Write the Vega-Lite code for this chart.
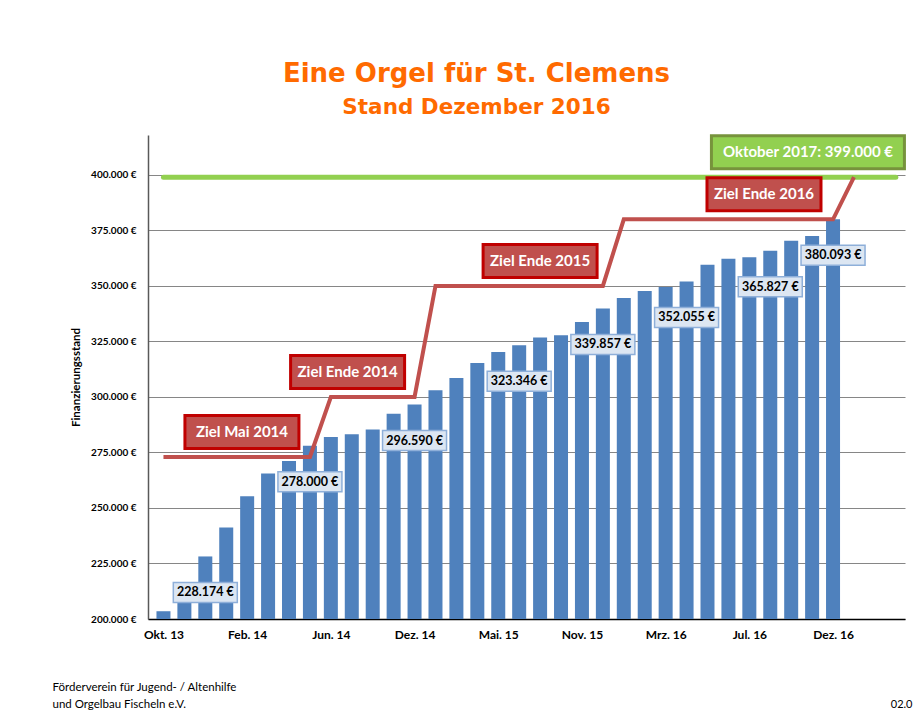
{
  "$schema": "https://vega.github.io/schema/vega-lite/v6.json",
  "width": 757,
  "height": 484,
  "autosize": {"type": "none"},
  "padding": {"left": 148, "top": 135, "right": 18, "bottom": 91},
  "background": "white",
  "config": {"view": {"stroke": null}, "font": "Lato"},
  "title": {
    "text": "Eine Orgel für St. Clemens",
    "subtitle": "Stand Dezember 2016",
    "font": "DejaVu Sans",
    "fontSize": 26,
    "fontWeight": "bold",
    "color": "#FF6A00",
    "subtitleFont": "DejaVu Sans",
    "subtitleFontSize": 21.5,
    "subtitleFontWeight": "bold",
    "subtitleColor": "#FF6A00",
    "subtitlePadding": 10,
    "offset": 11,
    "anchor": "middle",
    "dx": -50
  },
  "datasets": {
    "stand": [
      {"n": 0, "betrag": 203500},
      {"n": 1, "betrag": 215000},
      {"n": 2, "betrag": 228174, "label": "228.174 €"},
      {"n": 3, "betrag": 241200},
      {"n": 4, "betrag": 255300},
      {"n": 5, "betrag": 265500},
      {"n": 6, "betrag": 271200},
      {"n": 7, "betrag": 278000, "label": "278.000 €"},
      {"n": 8, "betrag": 282000},
      {"n": 9, "betrag": 283200},
      {"n": 10, "betrag": 285300},
      {"n": 11, "betrag": 292500},
      {"n": 12, "betrag": 296590, "label": "296.590 €"},
      {"n": 13, "betrag": 303000},
      {"n": 14, "betrag": 308600},
      {"n": 15, "betrag": 315300},
      {"n": 16, "betrag": 320300},
      {"n": 17, "betrag": 323346, "label": "323.346 €"},
      {"n": 18, "betrag": 326800},
      {"n": 19, "betrag": 327800},
      {"n": 20, "betrag": 333800},
      {"n": 21, "betrag": 339857, "label": "339.857 €"},
      {"n": 22, "betrag": 344600},
      {"n": 23, "betrag": 347700},
      {"n": 24, "betrag": 349500},
      {"n": 25, "betrag": 352055, "label": "352.055 €"},
      {"n": 26, "betrag": 359600},
      {"n": 27, "betrag": 362300},
      {"n": 28, "betrag": 362900},
      {"n": 29, "betrag": 365827, "label": "365.827 €"},
      {"n": 30, "betrag": 370400},
      {"n": 31, "betrag": 372500},
      {"n": 32, "betrag": 380093, "label": "380.093 €"}
    ],
    "ziel": [
      {"n": 0, "v": 273000},
      {"n": 7, "v": 273000},
      {"n": 8, "v": 300000},
      {"n": 12, "v": 300000},
      {"n": 13, "v": 350000},
      {"n": 21, "v": 350000},
      {"n": 22, "v": 380000},
      {"n": 32, "v": 380000},
      {"n": 33, "v": 399000}
    ],
    "gruen": [
      {"n": 0, "v": 399000},
      {"n": 35, "v": 399000}
    ],
    "notiz": [
      {"text": "Ziel Mai 2014", "n": 3.75, "v": 273000, "art": "rot"},
      {"text": "Ziel Ende 2014", "n": 8.8, "v": 300000, "art": "rot"},
      {"text": "Ziel Ende 2015", "n": 18.0, "v": 350000, "art": "rot"},
      {"text": "Ziel Ende 2016", "n": 28.7, "v": 380000, "art": "rot"},
      {"text": "Oktober 2017:  399.000 €", "n": 30.8, "v": 399000, "art": "gruen"}
    ]
  },
  "resolve": {"axis": {"y": "independent"}},
  "layer": [
    {
      "data": {"name": "stand"},
      "mark": {"type": "bar", "width": 14, "color": "#4F81BD"},
      "encoding": {
        "x": {
          "field": "n",
          "type": "quantitative",
          "scale": {"domain": [-0.5, 35.2], "nice": false, "zero": false},
          "axis": {
            "values": [0, 4, 8, 12, 16, 20, 24, 28, 32],
            "labelExpr": "['Okt. 13','Feb. 14','Jun. 14','Dez. 14','Mai. 15','Nov. 15','Mrz. 16','Jul. 16','Dez. 16'][datum.value/4]",
            "grid": false,
            "ticks": false,
            "domainColor": "#000000",
            "domainWidth": 1.5,
            "labelFontWeight": "bold",
            "labelFontSize": 12,
            "labelColor": "#000000",
            "labelPadding": 10,
            "title": ["Förderverein für Jugend- / Altenhilfe", "und Orgelbau Fischeln e.V."],
            "titleAnchor": "start",
            "titleAlign": "left",
            "titleX": -96,
            "titleY": 71,
            "titleBaseline": "alphabetic",
            "titleFontWeight": "normal",
            "titleFontSize": 11.5,
            "titleColor": "#000000",
            "titleLineHeight": 17
          }
        },
        "y": {
          "field": "betrag",
          "type": "quantitative",
          "scale": {"domain": [200000, 418000], "nice": false, "zero": false},
          "axis": {
            "orient": "left",
            "values": [200000, 225000, 250000, 275000, 300000, 325000, 350000, 375000, 400000],
            "labelExpr": "format(datum.value/1000,'d') + '.000 €'",
            "grid": true,
            "gridColor": "#868686",
            "gridWidth": 1,
            "ticks": false,
            "domainColor": "#595959",
            "domainWidth": 1.5,
            "labelFontWeight": "bold",
            "labelFontSize": 10,
            "labelColor": "#000000",
            "labelPadding": 12,
            "title": "Finanzierungsstand",
            "titleFontWeight": "bold",
            "titleFontSize": 11.5,
            "titleColor": "#000000",
            "titlePadding": 9
          }
        },
        "y2": {"datum": 200000}
      }
    },
    {
      "data": {"name": "gruen"},
      "mark": {"type": "line", "color": "#92D050", "strokeWidth": 5, "strokeCap": "round"},
      "encoding": {
        "x": {"field": "n", "type": "quantitative"},
        "y": {
          "field": "v",
          "type": "quantitative",
          "axis": {
            "orient": "right",
            "title": "02.0",
            "labels": false,
            "ticks": false,
            "domain": false,
            "grid": false,
            "titleAngle": 0,
            "titleAlign": "right",
            "titleBaseline": "alphabetic",
            "titleX": 7,
            "titleY": 572,
            "titleFontWeight": "normal",
            "titleFontSize": 11,
            "titleColor": "#000000"
          }
        }
      }
    },
    {
      "data": {"name": "ziel"},
      "mark": {"type": "line", "color": "#C0504D", "strokeWidth": 4},
      "encoding": {
        "x": {"field": "n", "type": "quantitative"},
        "y": {"field": "v", "type": "quantitative", "axis": null}
      }
    },
    {
      "data": {"name": "stand"},
      "transform": [{"filter": "datum.label != null"}],
      "mark": {
        "type": "point",
        "shape": "M-1,-0.3125L1,-0.3125L1,0.3125L-1,0.3125Z",
        "size": 4096,
        "filled": true,
        "fill": "#DCE6F2",
        "stroke": "#8EAFD9",
        "strokeWidth": 1.5,
        "opacity": 1,
        "yOffset": 36
      },
      "encoding": {
        "x": {"field": "n", "type": "quantitative"},
        "y": {"field": "betrag", "type": "quantitative", "axis": null}
      }
    },
    {
      "data": {"name": "stand"},
      "transform": [{"filter": "datum.label != null"}],
      "mark": {"type": "text", "fontWeight": "bold", "fontSize": 12.5, "color": "#000000", "dy": 36},
      "encoding": {
        "x": {"field": "n", "type": "quantitative"},
        "y": {"field": "betrag", "type": "quantitative", "axis": null},
        "text": {"field": "label"}
      }
    },
    {
      "data": {"name": "notiz"},
      "transform": [{"filter": "datum.art == 'rot'"}],
      "mark": {
        "type": "point",
        "shape": "M-1,-0.2895L1,-0.2895L1,0.2895L-1,0.2895Z",
        "size": 12996,
        "filled": true,
        "fill": "#C0504D",
        "stroke": "#C00000",
        "strokeWidth": 3,
        "opacity": 1,
        "yOffset": -25
      },
      "encoding": {
        "x": {"field": "n", "type": "quantitative"},
        "y": {"field": "v", "type": "quantitative", "axis": null}
      }
    },
    {
      "data": {"name": "notiz"},
      "transform": [{"filter": "datum.art == 'gruen'"}],
      "mark": {
        "type": "point",
        "shape": "M-1,-0.171L1,-0.171L1,0.171L-1,0.171Z",
        "size": 37249,
        "filled": true,
        "fill": "#92D050",
        "stroke": "#77933C",
        "strokeWidth": 3,
        "opacity": 1,
        "yOffset": -25
      },
      "encoding": {
        "x": {"field": "n", "type": "quantitative"},
        "y": {"field": "v", "type": "quantitative", "axis": null}
      }
    },
    {
      "data": {"name": "notiz"},
      "mark": {"type": "text", "fontWeight": "bold", "fontSize": 15, "color": "#FFFFFF", "dy": -25},
      "encoding": {
        "x": {"field": "n", "type": "quantitative"},
        "y": {"field": "v", "type": "quantitative", "axis": null},
        "text": {"field": "text"}
      }
    }
  ]
}
